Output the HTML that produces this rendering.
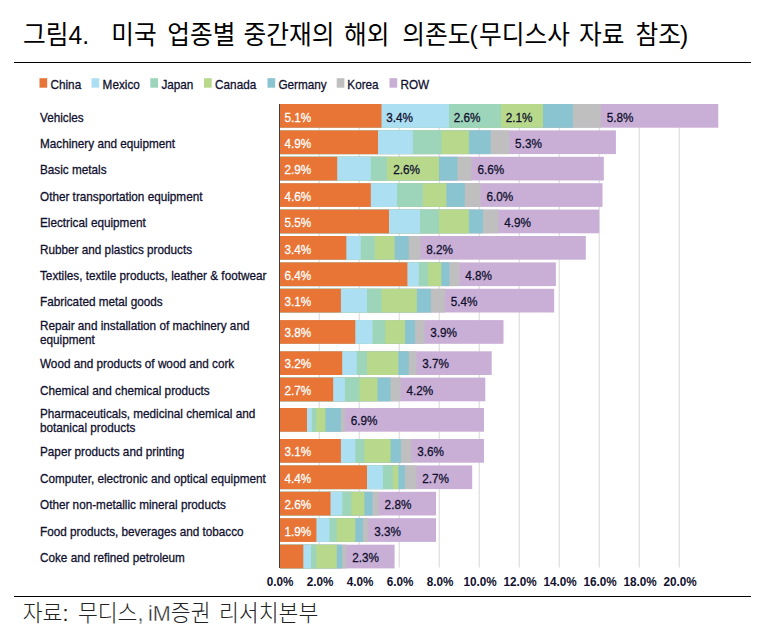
<!DOCTYPE html>
<html lang="ko">
<head>
<meta charset="utf-8">
<title>그림4. 미국 업종별 중간재의 해외 의존도</title>
<style>
html,body{margin:0;padding:0;background:#fff;}
body{width:774px;height:638px;overflow:hidden;position:relative;font-family:"Liberation Sans","Noto Sans CJK KR",sans-serif;}
.title{position:absolute;left:0;top:0;white-space:pre;font-family:"Liberation Sans","Noto Sans CJK KR",sans-serif;font-weight:400;color:#000;font-size:24.7px;line-height:30px;}
.title span{position:absolute;top:21.4px;transform:scaleY(1.05);transform-origin:50% 46%;}
.rule{position:absolute;left:14px;width:737px;height:1.2px;background:#000;}
.src span{position:absolute;top:598.5px;transform:scaleY(1.03);transform-origin:50% 50%;}
.src{position:absolute;left:0;top:0;white-space:pre;font-family:"Liberation Sans","Noto Sans CJK KR",sans-serif;font-weight:300;color:#222;font-size:21.6px;line-height:30px;}
.ln{font-weight:inherit;-webkit-text-stroke:0.4px #fff;}
svg{position:absolute;left:0;top:0;}
svg text{font-family:"Liberation Sans",sans-serif;}
</style>
</head>
<body>
<div class="title"><span style="left:23px">그림4.</span> <span style="left:111.3px">미국</span> <span style="left:167.3px">업종별</span> <span style="left:243.6px">중간재의</span> <span style="left:344px">해외</span> <span style="left:402.3px">의존도</span><span style="left:469.5px">(</span><span style="left:479px">무디스사</span> <span style="left:579px">자료</span> <span style="left:635.5px">참조</span><span style="left:680px">)</span></div>
<div class="rule" style="top:62px"></div>
<div class="rule" style="top:595.7px"></div>
<div class="src"><span style="left:22.7px">자료:</span> <span style="left:77.9px">무디스<b class="ln">,</b></span> <span style="left:148px"><b class="ln">iM</b>증권</span> <span style="left:219px">리서치본부</span></div>
<svg width="774" height="638" viewBox="0 0 774 638">

<rect x="318.7" y="104" width="1" height="463.6" fill="#d6d6d6"/>
<rect x="358.7" y="104" width="1" height="463.6" fill="#d6d6d6"/>
<rect x="398.7" y="104" width="1" height="463.6" fill="#d6d6d6"/>
<rect x="438.7" y="104" width="1" height="463.6" fill="#d6d6d6"/>
<rect x="478.7" y="104" width="1" height="463.6" fill="#d6d6d6"/>
<rect x="518.7" y="104" width="1" height="463.6" fill="#d6d6d6"/>
<rect x="558.7" y="104" width="1" height="463.6" fill="#d6d6d6"/>
<rect x="598.7" y="104" width="1" height="463.6" fill="#d6d6d6"/>
<rect x="638.7" y="104" width="1" height="463.6" fill="#d6d6d6"/>
<rect x="678.7" y="104" width="1" height="463.6" fill="#d6d6d6"/>
<rect x="39.5" y="78.2" width="7.7" height="9.5" fill="#E87436"/>
<text transform="translate(50.50,89.00) scale(0.89,1)" font-size="13.2" fill="#10102e" stroke="#10102e" stroke-width="0.3" text-anchor="start">China</text>
<rect x="91.5" y="78.2" width="7.7" height="9.5" fill="#ADDFF3"/>
<text transform="translate(102.60,89.00) scale(0.89,1)" font-size="13.2" fill="#10102e" stroke="#10102e" stroke-width="0.3" text-anchor="start">Mexico</text>
<rect x="150.3" y="78.2" width="7.7" height="9.5" fill="#9DD5BA"/>
<text transform="translate(161.40,89.00) scale(0.89,1)" font-size="13.2" fill="#10102e" stroke="#10102e" stroke-width="0.3" text-anchor="start">Japan</text>
<rect x="204.0" y="78.2" width="7.7" height="9.5" fill="#B8D98B"/>
<text transform="translate(215.10,89.00) scale(0.89,1)" font-size="13.2" fill="#10102e" stroke="#10102e" stroke-width="0.3" text-anchor="start">Canada</text>
<rect x="267.5" y="78.2" width="7.7" height="9.5" fill="#89C4D0"/>
<text transform="translate(278.40,89.00) scale(0.89,1)" font-size="13.2" fill="#10102e" stroke="#10102e" stroke-width="0.3" text-anchor="start">Germany</text>
<rect x="336.7" y="78.2" width="7.7" height="9.5" fill="#BFBFBF"/>
<text transform="translate(347.30,89.00) scale(0.89,1)" font-size="13.2" fill="#10102e" stroke="#10102e" stroke-width="0.3" text-anchor="start">Korea</text>
<rect x="389.5" y="78.2" width="7.7" height="9.5" fill="#C9AFD6"/>
<text transform="translate(400.40,89.00) scale(0.89,1)" font-size="13.2" fill="#10102e" stroke="#10102e" stroke-width="0.3" text-anchor="start">ROW</text>
<rect x="280" y="104.0" width="438.3" height="23.7" fill="#C9AFD6"/>
<rect x="280" y="104.0" width="321.0" height="23.7" fill="#BFBFBF"/>
<rect x="280" y="104.0" width="293.0" height="23.7" fill="#89C4D0"/>
<rect x="280" y="104.0" width="263.0" height="23.7" fill="#B8D98B"/>
<rect x="280" y="104.0" width="221.0" height="23.7" fill="#9DD5BA"/>
<rect x="280" y="104.0" width="169.0" height="23.7" fill="#ADDFF3"/>
<rect x="280" y="104.0" width="101.5" height="23.7" fill="#E87436"/>
<text transform="translate(284.50,121.70) scale(0.89,1)" font-size="13.2" fill="#ffffff" stroke="#ffffff" stroke-width="0.3" text-anchor="start">5.1%</text>
<text transform="translate(386.30,121.70) scale(0.89,1)" font-size="13.2" fill="#10102e" stroke="#10102e" stroke-width="0.3" text-anchor="start">3.4%</text>
<text transform="translate(453.80,121.70) scale(0.89,1)" font-size="13.2" fill="#10102e" stroke="#10102e" stroke-width="0.3" text-anchor="start">2.6%</text>
<text transform="translate(505.80,121.70) scale(0.89,1)" font-size="13.2" fill="#10102e" stroke="#10102e" stroke-width="0.3" text-anchor="start">2.1%</text>
<text transform="translate(606.80,121.70) scale(0.89,1)" font-size="13.2" fill="#10102e" stroke="#10102e" stroke-width="0.3" text-anchor="start">5.8%</text>
<text transform="translate(40.00,121.70) scale(0.89,1)" font-size="13.2" fill="#10102e" stroke="#10102e" stroke-width="0.3" text-anchor="start">Vehicles</text>
<rect x="280" y="130.4" width="335.9" height="23.7" fill="#C9AFD6"/>
<rect x="280" y="130.4" width="229.3" height="23.7" fill="#BFBFBF"/>
<rect x="280" y="130.4" width="210.7" height="23.7" fill="#89C4D0"/>
<rect x="280" y="130.4" width="188.9" height="23.7" fill="#B8D98B"/>
<rect x="280" y="130.4" width="161.5" height="23.7" fill="#9DD5BA"/>
<rect x="280" y="130.4" width="132.8" height="23.7" fill="#ADDFF3"/>
<rect x="280" y="130.4" width="98.0" height="23.7" fill="#E87436"/>
<text transform="translate(284.50,148.00) scale(0.89,1)" font-size="13.2" fill="#ffffff" stroke="#ffffff" stroke-width="0.3" text-anchor="start">4.9%</text>
<text transform="translate(515.10,148.00) scale(0.89,1)" font-size="13.2" fill="#10102e" stroke="#10102e" stroke-width="0.3" text-anchor="start">5.3%</text>
<text transform="translate(40.00,148.00) scale(0.89,1)" font-size="13.2" fill="#10102e" stroke="#10102e" stroke-width="0.3" text-anchor="start">Machinery and equipment</text>
<rect x="280" y="156.8" width="323.8" height="23.7" fill="#C9AFD6"/>
<rect x="280" y="156.8" width="191.6" height="23.7" fill="#BFBFBF"/>
<rect x="280" y="156.8" width="177.5" height="23.7" fill="#89C4D0"/>
<rect x="280" y="156.8" width="159.0" height="23.7" fill="#B8D98B"/>
<rect x="280" y="156.8" width="107.0" height="23.7" fill="#9DD5BA"/>
<rect x="280" y="156.8" width="90.8" height="23.7" fill="#ADDFF3"/>
<rect x="280" y="156.8" width="57.2" height="23.7" fill="#E87436"/>
<text transform="translate(284.50,174.30) scale(0.89,1)" font-size="13.2" fill="#ffffff" stroke="#ffffff" stroke-width="0.3" text-anchor="start">2.9%</text>
<text transform="translate(393.20,174.30) scale(0.89,1)" font-size="13.2" fill="#10102e" stroke="#10102e" stroke-width="0.3" text-anchor="start">2.6%</text>
<text transform="translate(477.40,174.30) scale(0.89,1)" font-size="13.2" fill="#10102e" stroke="#10102e" stroke-width="0.3" text-anchor="start">6.6%</text>
<text transform="translate(40.00,174.30) scale(0.89,1)" font-size="13.2" fill="#10102e" stroke="#10102e" stroke-width="0.3" text-anchor="start">Basic metals</text>
<rect x="280" y="183.2" width="322.5" height="23.7" fill="#C9AFD6"/>
<rect x="280" y="183.2" width="200.6" height="23.7" fill="#BFBFBF"/>
<rect x="280" y="183.2" width="184.8" height="23.7" fill="#89C4D0"/>
<rect x="280" y="183.2" width="166.4" height="23.7" fill="#B8D98B"/>
<rect x="280" y="183.2" width="142.8" height="23.7" fill="#9DD5BA"/>
<rect x="280" y="183.2" width="117.0" height="23.7" fill="#ADDFF3"/>
<rect x="280" y="183.2" width="90.8" height="23.7" fill="#E87436"/>
<text transform="translate(284.50,201.00) scale(0.89,1)" font-size="13.2" fill="#ffffff" stroke="#ffffff" stroke-width="0.3" text-anchor="start">4.6%</text>
<text transform="translate(486.40,201.00) scale(0.89,1)" font-size="13.2" fill="#10102e" stroke="#10102e" stroke-width="0.3" text-anchor="start">6.0%</text>
<text transform="translate(40.00,201.00) scale(0.89,1)" font-size="13.2" fill="#10102e" stroke="#10102e" stroke-width="0.3" text-anchor="start">Other transportation equipment</text>
<rect x="280" y="209.6" width="319.2" height="23.7" fill="#C9AFD6"/>
<rect x="280" y="209.6" width="218.4" height="23.7" fill="#BFBFBF"/>
<rect x="280" y="209.6" width="203.0" height="23.7" fill="#89C4D0"/>
<rect x="280" y="209.6" width="188.9" height="23.7" fill="#B8D98B"/>
<rect x="280" y="209.6" width="159.0" height="23.7" fill="#9DD5BA"/>
<rect x="280" y="209.6" width="140.0" height="23.7" fill="#ADDFF3"/>
<rect x="280" y="209.6" width="109.0" height="23.7" fill="#E87436"/>
<text transform="translate(284.50,227.40) scale(0.89,1)" font-size="13.2" fill="#ffffff" stroke="#ffffff" stroke-width="0.3" text-anchor="start">5.5%</text>
<text transform="translate(504.20,227.40) scale(0.89,1)" font-size="13.2" fill="#10102e" stroke="#10102e" stroke-width="0.3" text-anchor="start">4.9%</text>
<text transform="translate(40.00,227.40) scale(0.89,1)" font-size="13.2" fill="#10102e" stroke="#10102e" stroke-width="0.3" text-anchor="start">Electrical equipment</text>
<rect x="280" y="236.0" width="305.8" height="23.7" fill="#C9AFD6"/>
<rect x="280" y="236.0" width="140.5" height="23.7" fill="#BFBFBF"/>
<rect x="280" y="236.0" width="128.7" height="23.7" fill="#89C4D0"/>
<rect x="280" y="236.0" width="114.6" height="23.7" fill="#B8D98B"/>
<rect x="280" y="236.0" width="94.8" height="23.7" fill="#9DD5BA"/>
<rect x="280" y="236.0" width="80.7" height="23.7" fill="#ADDFF3"/>
<rect x="280" y="236.0" width="66.3" height="23.7" fill="#E87436"/>
<text transform="translate(284.50,253.70) scale(0.89,1)" font-size="13.2" fill="#ffffff" stroke="#ffffff" stroke-width="0.3" text-anchor="start">3.4%</text>
<text transform="translate(426.30,253.70) scale(0.89,1)" font-size="13.2" fill="#10102e" stroke="#10102e" stroke-width="0.3" text-anchor="start">8.2%</text>
<text transform="translate(40.00,253.70) scale(0.89,1)" font-size="13.2" fill="#10102e" stroke="#10102e" stroke-width="0.3" text-anchor="start">Rubber and plastics products</text>
<rect x="280" y="262.4" width="275.9" height="23.7" fill="#C9AFD6"/>
<rect x="280" y="262.4" width="179.5" height="23.7" fill="#BFBFBF"/>
<rect x="280" y="262.4" width="169.4" height="23.7" fill="#89C4D0"/>
<rect x="280" y="262.4" width="161.3" height="23.7" fill="#B8D98B"/>
<rect x="280" y="262.4" width="148.2" height="23.7" fill="#9DD5BA"/>
<rect x="280" y="262.4" width="138.8" height="23.7" fill="#ADDFF3"/>
<rect x="280" y="262.4" width="127.4" height="23.7" fill="#E87436"/>
<text transform="translate(284.50,280.00) scale(0.89,1)" font-size="13.2" fill="#ffffff" stroke="#ffffff" stroke-width="0.3" text-anchor="start">6.4%</text>
<text transform="translate(465.30,280.00) scale(0.89,1)" font-size="13.2" fill="#10102e" stroke="#10102e" stroke-width="0.3" text-anchor="start">4.8%</text>
<text transform="translate(40.00,280.00) scale(0.89,1)" font-size="13.2" fill="#10102e" stroke="#10102e" stroke-width="0.3" text-anchor="start">Textiles, textile products, leather &amp; footwear</text>
<rect x="280" y="288.8" width="274.2" height="23.7" fill="#C9AFD6"/>
<rect x="280" y="288.8" width="165.0" height="23.7" fill="#BFBFBF"/>
<rect x="280" y="288.8" width="150.9" height="23.7" fill="#89C4D0"/>
<rect x="280" y="288.8" width="136.8" height="23.7" fill="#B8D98B"/>
<rect x="280" y="288.8" width="101.5" height="23.7" fill="#9DD5BA"/>
<rect x="280" y="288.8" width="87.0" height="23.7" fill="#ADDFF3"/>
<rect x="280" y="288.8" width="60.9" height="23.7" fill="#E87436"/>
<text transform="translate(284.50,306.40) scale(0.89,1)" font-size="13.2" fill="#ffffff" stroke="#ffffff" stroke-width="0.3" text-anchor="start">3.1%</text>
<text transform="translate(450.80,306.40) scale(0.89,1)" font-size="13.2" fill="#10102e" stroke="#10102e" stroke-width="0.3" text-anchor="start">5.4%</text>
<text transform="translate(40.00,306.40) scale(0.89,1)" font-size="13.2" fill="#10102e" stroke="#10102e" stroke-width="0.3" text-anchor="start">Fabricated metal goods</text>
<rect x="280" y="320.1" width="223.5" height="23.7" fill="#C9AFD6"/>
<rect x="280" y="320.1" width="144.5" height="23.7" fill="#BFBFBF"/>
<rect x="280" y="320.1" width="135.0" height="23.7" fill="#89C4D0"/>
<rect x="280" y="320.1" width="125.0" height="23.7" fill="#B8D98B"/>
<rect x="280" y="320.1" width="105.2" height="23.7" fill="#9DD5BA"/>
<rect x="280" y="320.1" width="92.5" height="23.7" fill="#ADDFF3"/>
<rect x="280" y="320.1" width="75.3" height="23.7" fill="#E87436"/>
<text transform="translate(284.50,337.20) scale(0.89,1)" font-size="13.2" fill="#ffffff" stroke="#ffffff" stroke-width="0.3" text-anchor="start">3.8%</text>
<text transform="translate(430.30,337.20) scale(0.89,1)" font-size="13.2" fill="#10102e" stroke="#10102e" stroke-width="0.3" text-anchor="start">3.9%</text>
<text transform="translate(40.00,330.20) scale(0.89,1)" font-size="13.2" fill="#10102e" stroke="#10102e" stroke-width="0.3" text-anchor="start">Repair and installation of machinery and</text>
<text transform="translate(40.00,344.20) scale(0.89,1)" font-size="13.2" fill="#10102e" stroke="#10102e" stroke-width="0.3" text-anchor="start">equipment</text>
<rect x="280" y="351.3" width="211.7" height="23.7" fill="#C9AFD6"/>
<rect x="280" y="351.3" width="136.5" height="23.7" fill="#BFBFBF"/>
<rect x="280" y="351.3" width="128.7" height="23.7" fill="#89C4D0"/>
<rect x="280" y="351.3" width="118.3" height="23.7" fill="#B8D98B"/>
<rect x="280" y="351.3" width="87.0" height="23.7" fill="#9DD5BA"/>
<rect x="280" y="351.3" width="76.7" height="23.7" fill="#ADDFF3"/>
<rect x="280" y="351.3" width="62.2" height="23.7" fill="#E87436"/>
<text transform="translate(284.50,368.00) scale(0.89,1)" font-size="13.2" fill="#ffffff" stroke="#ffffff" stroke-width="0.3" text-anchor="start">3.2%</text>
<text transform="translate(422.30,368.00) scale(0.89,1)" font-size="13.2" fill="#10102e" stroke="#10102e" stroke-width="0.3" text-anchor="start">3.7%</text>
<text transform="translate(40.00,368.00) scale(0.89,1)" font-size="13.2" fill="#10102e" stroke="#10102e" stroke-width="0.3" text-anchor="start">Wood and products of wood and cork</text>
<rect x="280" y="377.6" width="205.3" height="23.7" fill="#C9AFD6"/>
<rect x="280" y="377.6" width="120.7" height="23.7" fill="#BFBFBF"/>
<rect x="280" y="377.6" width="110.6" height="23.7" fill="#89C4D0"/>
<rect x="280" y="377.6" width="97.5" height="23.7" fill="#B8D98B"/>
<rect x="280" y="377.6" width="79.4" height="23.7" fill="#9DD5BA"/>
<rect x="280" y="377.6" width="64.9" height="23.7" fill="#ADDFF3"/>
<rect x="280" y="377.6" width="53.2" height="23.7" fill="#E87436"/>
<text transform="translate(284.50,394.50) scale(0.89,1)" font-size="13.2" fill="#ffffff" stroke="#ffffff" stroke-width="0.3" text-anchor="start">2.7%</text>
<text transform="translate(406.50,394.50) scale(0.89,1)" font-size="13.2" fill="#10102e" stroke="#10102e" stroke-width="0.3" text-anchor="start">4.2%</text>
<text transform="translate(40.00,394.50) scale(0.89,1)" font-size="13.2" fill="#10102e" stroke="#10102e" stroke-width="0.3" text-anchor="start">Chemical and chemical products</text>
<rect x="280" y="408.0" width="204.0" height="23.7" fill="#C9AFD6"/>
<rect x="280" y="408.0" width="64.9" height="23.7" fill="#BFBFBF"/>
<rect x="280" y="408.0" width="60.9" height="23.7" fill="#89C4D0"/>
<rect x="280" y="408.0" width="45.4" height="23.7" fill="#B8D98B"/>
<rect x="280" y="408.0" width="36.4" height="23.7" fill="#9DD5BA"/>
<rect x="280" y="408.0" width="31.7" height="23.7" fill="#ADDFF3"/>
<rect x="280" y="408.0" width="27.0" height="23.7" fill="#E87436"/>
<text transform="translate(350.70,425.40) scale(0.89,1)" font-size="13.2" fill="#10102e" stroke="#10102e" stroke-width="0.3" text-anchor="start">6.9%</text>
<text transform="translate(40.00,418.40) scale(0.89,1)" font-size="13.2" fill="#10102e" stroke="#10102e" stroke-width="0.3" text-anchor="start">Pharmaceuticals, medicinal chemical and</text>
<text transform="translate(40.00,432.40) scale(0.89,1)" font-size="13.2" fill="#10102e" stroke="#10102e" stroke-width="0.3" text-anchor="start">botanical products</text>
<rect x="280" y="439.0" width="204.0" height="23.7" fill="#C9AFD6"/>
<rect x="280" y="439.0" width="131.4" height="23.7" fill="#BFBFBF"/>
<rect x="280" y="439.0" width="121.0" height="23.7" fill="#89C4D0"/>
<rect x="280" y="439.0" width="110.6" height="23.7" fill="#B8D98B"/>
<rect x="280" y="439.0" width="84.4" height="23.7" fill="#9DD5BA"/>
<rect x="280" y="439.0" width="75.3" height="23.7" fill="#ADDFF3"/>
<rect x="280" y="439.0" width="60.9" height="23.7" fill="#E87436"/>
<text transform="translate(284.50,456.40) scale(0.89,1)" font-size="13.2" fill="#ffffff" stroke="#ffffff" stroke-width="0.3" text-anchor="start">3.1%</text>
<text transform="translate(417.20,456.40) scale(0.89,1)" font-size="13.2" fill="#10102e" stroke="#10102e" stroke-width="0.3" text-anchor="start">3.6%</text>
<text transform="translate(40.00,456.40) scale(0.89,1)" font-size="13.2" fill="#10102e" stroke="#10102e" stroke-width="0.3" text-anchor="start">Paper products and printing</text>
<rect x="280" y="465.4" width="192.2" height="23.7" fill="#C9AFD6"/>
<rect x="280" y="465.4" width="136.5" height="23.7" fill="#BFBFBF"/>
<rect x="280" y="465.4" width="125.0" height="23.7" fill="#89C4D0"/>
<rect x="280" y="465.4" width="118.3" height="23.7" fill="#B8D98B"/>
<rect x="280" y="465.4" width="113.0" height="23.7" fill="#9DD5BA"/>
<rect x="280" y="465.4" width="102.9" height="23.7" fill="#ADDFF3"/>
<rect x="280" y="465.4" width="87.0" height="23.7" fill="#E87436"/>
<text transform="translate(284.50,482.60) scale(0.89,1)" font-size="13.2" fill="#ffffff" stroke="#ffffff" stroke-width="0.3" text-anchor="start">4.4%</text>
<text transform="translate(422.30,482.60) scale(0.89,1)" font-size="13.2" fill="#10102e" stroke="#10102e" stroke-width="0.3" text-anchor="start">2.7%</text>
<text transform="translate(40.00,482.60) scale(0.89,1)" font-size="13.2" fill="#10102e" stroke="#10102e" stroke-width="0.3" text-anchor="start">Computer, electronic and optical equipment</text>
<rect x="280" y="491.8" width="156.0" height="23.7" fill="#C9AFD6"/>
<rect x="280" y="491.8" width="98.8" height="23.7" fill="#BFBFBF"/>
<rect x="280" y="491.8" width="92.5" height="23.7" fill="#89C4D0"/>
<rect x="280" y="491.8" width="84.4" height="23.7" fill="#B8D98B"/>
<rect x="280" y="491.8" width="71.3" height="23.7" fill="#9DD5BA"/>
<rect x="280" y="491.8" width="62.2" height="23.7" fill="#ADDFF3"/>
<rect x="280" y="491.8" width="50.5" height="23.7" fill="#E87436"/>
<text transform="translate(284.50,508.90) scale(0.89,1)" font-size="13.2" fill="#ffffff" stroke="#ffffff" stroke-width="0.3" text-anchor="start">2.6%</text>
<text transform="translate(384.60,508.90) scale(0.89,1)" font-size="13.2" fill="#10102e" stroke="#10102e" stroke-width="0.3" text-anchor="start">2.8%</text>
<text transform="translate(40.00,508.90) scale(0.89,1)" font-size="13.2" fill="#10102e" stroke="#10102e" stroke-width="0.3" text-anchor="start">Other non-metallic mineral products</text>
<rect x="280" y="518.2" width="156.0" height="23.7" fill="#C9AFD6"/>
<rect x="280" y="518.2" width="88.4" height="23.7" fill="#BFBFBF"/>
<rect x="280" y="518.2" width="83.0" height="23.7" fill="#89C4D0"/>
<rect x="280" y="518.2" width="75.3" height="23.7" fill="#B8D98B"/>
<rect x="280" y="518.2" width="56.8" height="23.7" fill="#9DD5BA"/>
<rect x="280" y="518.2" width="49.5" height="23.7" fill="#ADDFF3"/>
<rect x="280" y="518.2" width="36.4" height="23.7" fill="#E87436"/>
<text transform="translate(284.50,535.50) scale(0.89,1)" font-size="13.2" fill="#ffffff" stroke="#ffffff" stroke-width="0.3" text-anchor="start">1.9%</text>
<text transform="translate(374.20,535.50) scale(0.89,1)" font-size="13.2" fill="#10102e" stroke="#10102e" stroke-width="0.3" text-anchor="start">3.3%</text>
<text transform="translate(40.00,535.50) scale(0.89,1)" font-size="13.2" fill="#10102e" stroke="#10102e" stroke-width="0.3" text-anchor="start">Food products, beverages and tobacco</text>
<rect x="280" y="544.7" width="114.6" height="23.7" fill="#C9AFD6"/>
<rect x="280" y="544.7" width="66.5" height="23.7" fill="#BFBFBF"/>
<rect x="280" y="544.7" width="62.2" height="23.7" fill="#89C4D0"/>
<rect x="280" y="544.7" width="56.8" height="23.7" fill="#B8D98B"/>
<rect x="280" y="544.7" width="36.4" height="23.7" fill="#9DD5BA"/>
<rect x="280" y="544.7" width="31.0" height="23.7" fill="#ADDFF3"/>
<rect x="280" y="544.7" width="23.3" height="23.7" fill="#E87436"/>
<text transform="translate(352.30,561.90) scale(0.89,1)" font-size="13.2" fill="#10102e" stroke="#10102e" stroke-width="0.3" text-anchor="start">2.3%</text>
<text transform="translate(40.00,561.90) scale(0.89,1)" font-size="13.2" fill="#10102e" stroke="#10102e" stroke-width="0.3" text-anchor="start">Coke and refined petroleum</text>
<rect x="279" y="104" width="1" height="464" fill="#404040"/>
<text transform="translate(280.10,585.60) scale(0.89,1)" font-size="13.2" fill="#10102e" stroke="#10102e" stroke-width="0" text-anchor="middle" font-weight="bold">0.0%</text>
<text transform="translate(320.10,585.60) scale(0.89,1)" font-size="13.2" fill="#10102e" stroke="#10102e" stroke-width="0" text-anchor="middle" font-weight="bold">2.0%</text>
<text transform="translate(360.10,585.60) scale(0.89,1)" font-size="13.2" fill="#10102e" stroke="#10102e" stroke-width="0" text-anchor="middle" font-weight="bold">4.0%</text>
<text transform="translate(400.10,585.60) scale(0.89,1)" font-size="13.2" fill="#10102e" stroke="#10102e" stroke-width="0" text-anchor="middle" font-weight="bold">6.0%</text>
<text transform="translate(440.10,585.60) scale(0.89,1)" font-size="13.2" fill="#10102e" stroke="#10102e" stroke-width="0" text-anchor="middle" font-weight="bold">8.0%</text>
<text transform="translate(480.10,585.60) scale(0.89,1)" font-size="13.2" fill="#10102e" stroke="#10102e" stroke-width="0" text-anchor="middle" font-weight="bold">10.0%</text>
<text transform="translate(520.10,585.60) scale(0.89,1)" font-size="13.2" fill="#10102e" stroke="#10102e" stroke-width="0" text-anchor="middle" font-weight="bold">12.0%</text>
<text transform="translate(560.10,585.60) scale(0.89,1)" font-size="13.2" fill="#10102e" stroke="#10102e" stroke-width="0" text-anchor="middle" font-weight="bold">14.0%</text>
<text transform="translate(600.10,585.60) scale(0.89,1)" font-size="13.2" fill="#10102e" stroke="#10102e" stroke-width="0" text-anchor="middle" font-weight="bold">16.0%</text>
<text transform="translate(640.10,585.60) scale(0.89,1)" font-size="13.2" fill="#10102e" stroke="#10102e" stroke-width="0" text-anchor="middle" font-weight="bold">18.0%</text>
<text transform="translate(680.10,585.60) scale(0.89,1)" font-size="13.2" fill="#10102e" stroke="#10102e" stroke-width="0" text-anchor="middle" font-weight="bold">20.0%</text>
</svg>
</body>
</html>
